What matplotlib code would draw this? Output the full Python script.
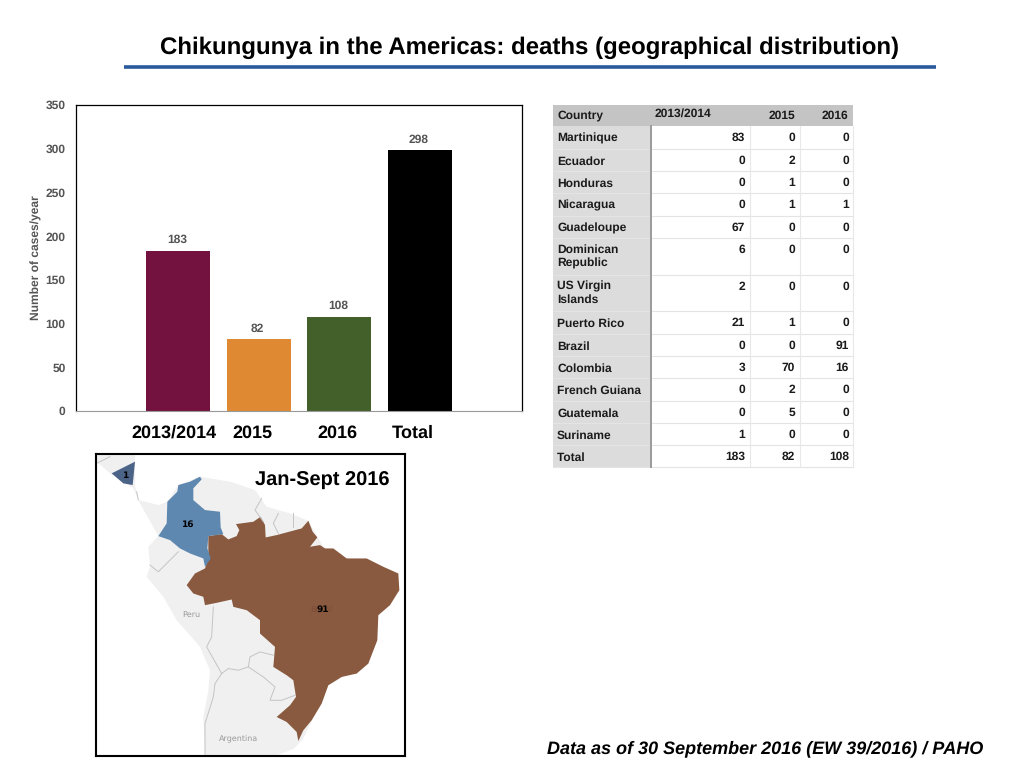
# Chikungunya deaths slide: bar chart, table and map
import matplotlib
matplotlib.use('Agg')
import matplotlib.pyplot as plt
from matplotlib.patches import Polygon, Rectangle

plt.rcParams['font.family'] = ['Liberation Sans', 'DejaVu Sans']
plt.rcParams['text.hinting'] = 'no_hinting'
plt.rcParams['text.hinting_factor'] = 1

# bar chart data
years = ['2013/2014', '2015', '2016', 'Total']
totals = [183, 82, 108, 298]
bar_colors = ['#73123f', '#df8a32', '#43602a', '#000000']

# table data
countries = ['Martinique', 'Ecuador', 'Honduras', 'Nicaragua', 'Guadeloupe',
             'Dominican\nRepublic', 'US Virgin\nIslands', 'Puerto Rico', 'Brazil',
             'Colombia', 'French Guiana', 'Guatemala', 'Suriname', 'Total']
deaths_1314 = [83, 0, 0, 0, 67, 6, 2, 21, 0, 3, 0, 0, 1, 183]
deaths_2015 = [0, 2, 1, 1, 0, 0, 0, 1, 0, 70, 2, 5, 0, 82]
deaths_2016 = [0, 0, 0, 1, 0, 0, 0, 0, 91, 16, 0, 0, 0, 108]

# map outlines, in pixels of the map crop
brazil = [(355,258),(395,252),(415,268),(440,258),(448,240),(438,222),(490,215),(512,200),
          (525,225),(527,262),(560,255),(635,235),(655,212),(668,245),(682,262),(660,290),
          (690,285),(705,295),(730,295),(770,325),(830,325),(880,350),(925,370),(928,420),
          (900,465),(865,495),(862,570),(835,640),(800,670),(755,680),(715,705),(695,760),
          (665,810),(640,840),(625,872),(620,845),(590,815),(560,800),(600,765),(618,740),
          (610,690),(590,675),(550,650),(555,590),(510,550),(510,510),(470,480),(430,470),
          (425,448),(380,458),(345,465),(340,440),(310,430),(290,405),(315,370),(345,355),(355,325)]
colombia = [(205,258),(230,220),(232,155),(262,125),(265,105),(300,95),(330,80),(335,88),
            (310,115),(310,150),(345,180),(390,185),(392,232),(400,252),(355,258),(352,295),
            (362,325),(345,350),(340,325),(300,310),(270,295),(240,270)]
nicaragua = [(65,70),(135,35),(128,105),(100,100)]
land = [(20,15),(135,15),(135,105),(145,150),(205,165),(232,155),(265,105),(330,80),(420,95),
        (495,120),(530,170),(600,190),(655,212),(700,290),(770,325),(880,350),(928,420),
        (865,495),(835,640),(715,705),(640,865),(612,895),(560,915),(345,915),(340,800),
        (355,720),(360,660),(330,590),(260,510),(220,440),(170,380),(180,350),(175,290),
        (205,258),(150,160),(130,115),(60,70),(20,35)]
borders = [[(180,345),(205,365),(240,330),(265,305)],
           [(370,470),(365,560),(350,590),(395,670)],
           [(395,670),(375,700),(370,740),(345,820),(345,915)],
           [(395,670),(415,655),(445,660),(475,650),(480,620),(510,605),(550,615)],
           [(475,650),(520,680),(555,710),(540,750),(575,750),(615,735)],
           [(515,145),(495,180),(520,215)],
           [(565,190),(550,220),(565,250)],
           [(610,190),(610,230)],
           [(140,125),(145,150)],
           [(20,40),(60,20)]]

fig = plt.figure(figsize=(10.24, 7.68), dpi=100)

# whole figure overlay in pixels, y pointing down
bg = fig.add_axes([0, 0, 1, 1])
bg.set_xlim(0, 1024)
bg.set_ylim(768, 0)
bg.axis('off')

bg.text(530, 48, 'Chikungunya in the Americas: deaths (geographical distribution)',
        fontsize=17.3, fontweight='bold', ha='center', va='center')
bg.plot([124, 936], [66.5, 66.5], color='#2a5a9b', lw=2.6, solid_capstyle='butt')
bg.text(765, 749, 'Data as of 30 September 2016 (EW 39/2016) / PAHO',
        fontsize=13, fontweight='bold', style='italic', ha='center', va='center')

# bar chart
ax = fig.add_axes([76/1024, 1-411/768, (522-76)/1024, (411-105)/768])
x = range(len(years))
ax.bar(x, totals, width=0.79, color=bar_colors)
for i, v in zip(x, totals):
    ax.text(i - 0.012, v + 6, str(v), ha='center', va='bottom', fontsize=8.3, fontweight='bold', color='#555555')
ax.set_xlim(-1.27, 4.27)
ax.set_ylim(0, 350)
ax.set_xticks([])
ax.set_yticks(range(0, 351, 50))
ax.tick_params(axis='y', length=0, pad=7.5, labelsize=8.6, labelcolor='#555555')
for lab in ax.get_yticklabels():
    lab.set_fontweight('bold')
ax.spines['bottom'].set_color('#999999')
ax.spines['bottom'].set_linewidth(0.8)
for side in ['left', 'top', 'right']:
    ax.spines[side].set_linewidth(0.9)
bg.text(36, 258, 'Number of cases/year', rotation=90, fontsize=8.5, fontweight='bold',
        color='#555555', ha='center', va='center')
for xp, lab in zip([174, 252, 337, 413], years):
    bg.text(xp, 433, lab, fontsize=13.2, fontweight='bold', ha='center', va='center')

# table
col_x = [553, 651, 750, 800, 853]
row_y = [105, 126, 149, 171, 193, 216, 238, 275, 311, 334, 356, 378, 401, 423, 445, 467]
bg.add_patch(Rectangle((col_x[0], row_y[0]), col_x[-1]-col_x[0], row_y[1]-row_y[0], color='#c3c4c3', lw=0))
bg.add_patch(Rectangle((col_x[0], row_y[1]), col_x[1]-col_x[0], row_y[-1]-row_y[1], color='#dcdcdc', lw=0))
for y in row_y[2:]:
    bg.plot([col_x[0], col_x[-1]], [y, y], color='#e4e4e4', lw=0.8)
for xp in col_x[2:]:
    bg.plot([xp, xp], [row_y[1], row_y[-1]], color='#e8e8e8', lw=0.8)
bg.plot([651, 651], [row_y[1], row_y[-1]], color='#9a9a9a', lw=1.4)

bg.text(557, 115, 'Country', fontsize=8.5, fontweight='bold', va='center', color='#1a1a1a')
bg.text(655, 114, '2013/2014', fontsize=8.5, fontweight='bold', va='center', color='#1a1a1a')
bg.text(795, 116, '2015', fontsize=8.5, fontweight='bold', va='center', ha='right', color='#1a1a1a')
bg.text(848, 116, '2016', fontsize=8.5, fontweight='bold', va='center', ha='right', color='#1a1a1a')
for i, name in enumerate(countries):
    top = row_y[i+1]
    if '\n' in name:
        bg.text(557, top + 6, name, fontsize=8.5, fontweight='bold', va='top', color='#1a1a1a', linespacing=1.25)
    else:
        bg.text(557, top + 12.5, name, fontsize=8.5, fontweight='bold', va='center', color='#1a1a1a')
    for xp, vals in zip([745, 795, 849], [deaths_1314, deaths_2015, deaths_2016]):
        bg.text(xp, top + 12, str(vals[i]), fontsize=8.5, fontweight='bold', va='center', ha='right', color='#1a1a1a')

# map
mp = fig.add_axes([96/1024, 1-756/768, (405-96)/1024, (756-454)/768])
mp.set_xlim(18, 945)
mp.set_ylim(917, 12)
mp.set_xticks([])
mp.set_yticks([])
for s in mp.spines.values():
    s.set_linewidth(1.5)
mp.add_patch(Polygon(land, closed=True, color='#f0f0f0', lw=0))
for line in borders:
    mp.plot([p[0] for p in line], [p[1] for p in line], color='#c4c4c4', lw=0.7)
mp.add_patch(Polygon(brazil, closed=True, color='#895a3f', lw=0))
mp.add_patch(Polygon(colombia, closed=True, color='#5f88b0', lw=0))
mp.add_patch(Polygon(nicaragua, closed=True, color='#4c6388', lw=0))
mp.text(305, 495, 'Peru', fontsize=5.5, color='#999999', ha='center', va='center', family='DejaVu Sans')
mp.text(445, 862, 'Argentina', fontsize=5.5, color='#999999', ha='center', va='center', family='DejaVu Sans')
mp.text(695, 479, 'Brazil', fontsize=6, color='#7a4d35', ha='center', va='center', family='DejaVu Sans')
mp.text(697, 479, '91', fontsize=6.5, fontweight='bold', ha='center', va='center', family='DejaVu Sans')
mp.text(296, 223, '16', fontsize=6.5, fontweight='bold', ha='center', va='center', family='DejaVu Sans')
mp.text(108, 76, '1', fontsize=6.5, fontweight='bold', ha='center', va='center', family='DejaVu Sans')
mp.text(697, 92, 'Jan-Sept 2016', fontsize=14.3, fontweight='bold', ha='center', va='center')

fig.savefig('out.png', dpi=100)
